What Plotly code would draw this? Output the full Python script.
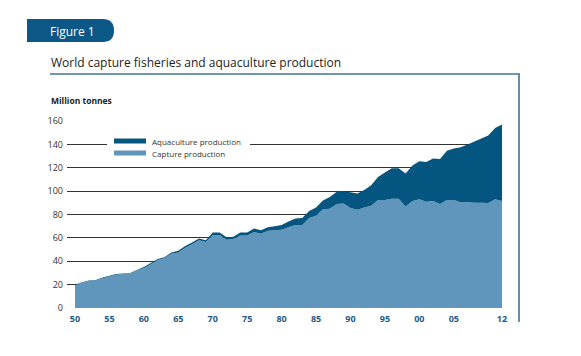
import plotly.graph_objects as go

years = list(range(1950, 2013))
total = [20, 22, 23.5, 24, 26, 27.5, 29, 29.5, 30, 32.5,
         35, 38.5, 42, 43.5, 47.5, 49, 53, 56, 59.5, 58,
         64.5, 64.5, 60.5, 61, 64.5, 64.5, 68, 66.5, 69, 70,
         71, 74, 76.5, 77, 83, 86, 92, 95, 99.5, 100,
         99, 98, 101, 105, 112, 116, 119.5, 119.5, 115, 122,
         125.5, 125, 128, 127.5, 134.5, 136.5, 137.5, 140, 142.5, 145,
         147.5, 154, 157]
capture = [19.5, 21.5, 23, 23.5, 25.5, 27, 28.5, 29, 29.5, 32,
           34, 37.5, 41, 42.5, 46.5, 47.5, 51.5, 54.5, 58, 56.5,
           62.5, 62.5, 58.5, 59, 62, 62, 65, 63.5, 66, 66.5,
           67, 69, 71, 71, 77, 79, 84.5, 85, 89, 89.5,
           85.5, 84, 86, 87.5, 92.5, 92.5, 93.5, 93.5, 86.8, 91.5,
           93, 91, 91.5, 89, 92.5, 92.3, 90.5, 90.5, 90, 90,
           89.8, 93, 91.5]
aquaculture = [round(t - c, 2) for t, c in zip(total, capture)]

tick_years = [1950, 1955, 1960, 1965, 1970, 1975, 1980, 1985, 1990, 1995, 2000, 2005, 2012]
tick_text = ["50", "55", "60", "65", "70", "75", "80", "85", "90", "95", "00", "05", "12"]
y_ticks = [0, 20, 40, 60, 80, 100, 120, 140, 160]

DARK = "#04557f"
LIGHT = "#6096bb"
FONT = "Open Sans, Noto Sans, sans-serif"

fig = go.Figure()
fig.add_trace(go.Scatter(x=years, y=capture, mode="none", fill="tozeroy",
                         fillcolor=LIGHT, stackgroup="a", name="Capture production"))
fig.add_trace(go.Scatter(x=years, y=aquaculture, mode="none", fill="tonexty",
                         fillcolor=DARK, stackgroup="a", name="Aquaculture production"))

OFF = 8  # page body margin
W, H = 581 - OFF, 356 - OFF
L, R, T, B = 67, 502, 121, 308  # target window pixel coords of plot area
pw, ph = R - L, B - T


def px(x):
    return (x - L) / pw


def py(y):
    return (B - y) / ph


shapes = []
# Figure badge
x0, x1 = px(27), px(114)
yt, yb, ym = py(19), py(42), py(30.5)
rx = 11.5 / pw
shapes.append(dict(type="path", xref="paper", yref="paper",
                   path=f"M {x0},{yt} L {x1-rx},{yt} Q {x1},{yt} {x1},{ym} Q {x1},{yb} {x1-rx},{yb} L {x0},{yb} Z",
                   fillcolor="#0b5886", line=dict(width=0), layer="above"))
# title underline and right border
shapes.append(dict(type="line", xref="paper", yref="paper", x0=px(50), x1=px(519.5), y0=py(74), y1=py(74),
                   line=dict(color="#3f7399", width=1.6), layer="above"))
shapes.append(dict(type="line", xref="paper", yref="paper", x0=px(519), x1=px(519), y0=py(73.5), y1=py(322),
                   line=dict(color="#3f7399", width=1.6), layer="above"))
# legend box
shapes.append(dict(type="rect", xref="paper", yref="paper", x0=px(107), x1=px(250), y0=py(135), y1=py(159),
                   fillcolor="white", line=dict(width=0), layer="above"))
shapes.append(dict(type="rect", xref="paper", yref="paper", x0=px(114), x1=px(146), y0=py(138.5), y1=py(143.5),
                   fillcolor=DARK, line=dict(width=0), layer="above"))
shapes.append(dict(type="rect", xref="paper", yref="paper", x0=px(114), x1=px(146), y0=py(150.5), y1=py(155.5),
                   fillcolor=LIGHT, line=dict(width=0), layer="above"))

annotations = [
    dict(text="Figure 1", x=px(48), y=py(31), xref="paper", yref="paper", xanchor="left", yanchor="middle",
         showarrow=False, font=dict(family=FONT, size=12, color="white")),
    dict(text="World capture fisheries and aquaculture production", x=px(49), y=py(62), xref="paper", yref="paper",
         xanchor="left", yanchor="middle", showarrow=False, font=dict(family=FONT, size=12, color="#222")),
    dict(text="<b>Million tonnes</b>", x=px(49), y=py(100), xref="paper", yref="paper",
         xanchor="left", yanchor="middle", showarrow=False, font=dict(family=FONT, size=8.5, color="#222")),
    dict(text="Aquaculture production", x=px(150), y=py(141), xref="paper", yref="paper",
         xanchor="left", yanchor="middle", showarrow=False, font=dict(family=FONT, size=8, color="#333")),
    dict(text="Capture production", x=px(150), y=py(153), xref="paper", yref="paper",
         xanchor="left", yanchor="middle", showarrow=False, font=dict(family=FONT, size=8, color="#333")),
]

fig.update_layout(
    width=W, height=H,
    margin=dict(l=L - OFF, r=581 - R, t=T - OFF, b=356 - B, pad=0),
    paper_bgcolor="white", plot_bgcolor="white",
    showlegend=False,
    shapes=shapes, annotations=annotations,
    font=dict(family=FONT),
    xaxis=dict(range=[1948.84, 2012], tickvals=tick_years, ticktext=tick_text,
               showgrid=False, zeroline=False, showline=False, ticks="",
               tickfont=dict(family=FONT, size=9, color="#1d5a86", weight="bold"),
               ticklabelstandoff=4),
    yaxis=dict(range=[0, 160], tickvals=y_ticks, showgrid=True, gridcolor="#333", gridwidth=1,
               zeroline=False, showline=False, ticks="",
               tickfont=dict(family=FONT, size=9, color="#333"), ticklabelstandoff=3),
)

fig.write_html("out.html")
